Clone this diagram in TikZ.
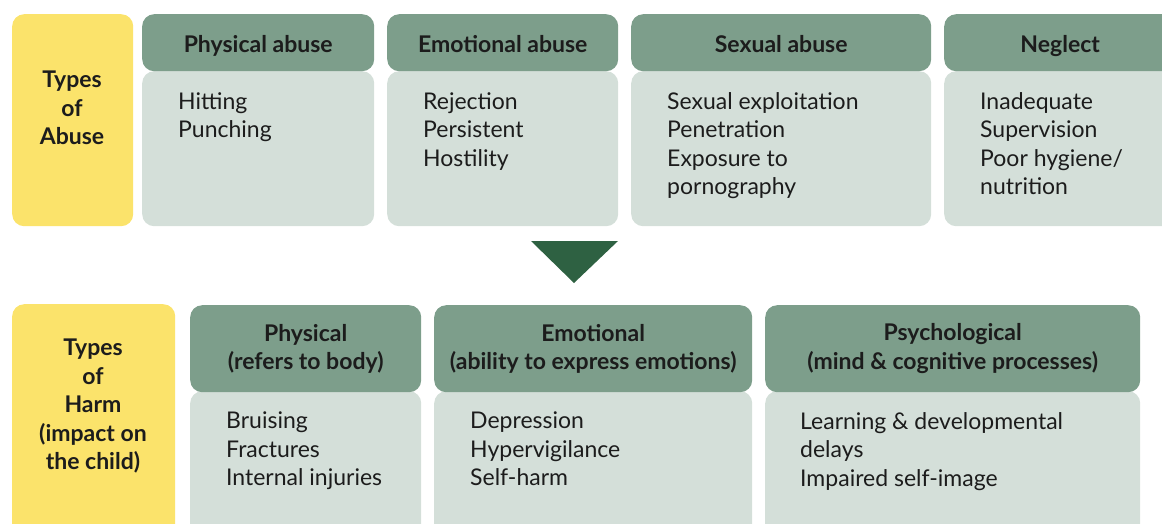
\documentclass[tikz,border=0pt]{standalone}
\usepackage{fontspec}
\setmainfont{Lato}
\usetikzlibrary{positioning}
\definecolor{headgreen}{HTML}{7D9E8B}
\definecolor{bodygreen}{HTML}{D4DFD9}
\definecolor{labelyellow}{HTML}{FBE36B}
\definecolor{arrowgreen}{HTML}{2E6142}
\definecolor{inkblack}{HTML}{1C1C1C}
\newcommand{\headfont}{\fontsize{23}{28.5}\selectfont\bfseries}
\newcommand{\itemfont}{\fontsize{23}{28.5}\selectfont}

\begin{document}
\begin{tikzpicture}[x=1pt,y=-1pt,
    labelbox/.style={fill=labelyellow, rounded corners=12pt, inner sep=0pt, anchor=north west},
    headbox/.style={fill=headgreen, rounded corners=12pt, inner sep=0pt, anchor=north west,
      font=\headfont, text=inkblack, align=center},
    tophead/.style={headbox, minimum height=57pt, text height=22pt, text depth=3pt},
    bodybox/.style={fill=bodygreen, rounded corners=12pt, inner sep=0pt, anchor=north west},
    itemtext/.style={anchor=north west, inner sep=0pt, align=left, font=\itemfont, text=inkblack},
    labeltext/.style={inner sep=0pt, align=center, font=\headfont, text=inkblack}]
  \useasboundingbox (0,0) rectangle (1162,523);

  % types of abuse
  \node[labelbox, minimum width=121pt, minimum height=212pt] (abuse) at (12,14) {};
  \node[labeltext] (abuselbl) at (72,108) {Types\\of\\Abuse};

  \node[bodybox, minimum width=232pt, minimum height=155pt] (physbody) at (142,71) {};
  \node[tophead, minimum width=232pt] (physhead) at (142,14) {Physical abuse};
  \node[itemtext] (physitems) at (178,92) {Hitting\\Punching};

  \node[bodybox, minimum width=231pt, minimum height=155pt] (emobody) at (387,71) {};
  \node[tophead, minimum width=231pt] (emohead) at (387,14) {Emotional abuse};
  \node[itemtext] (emoitems) at (423,92) {Rejection\\Persistent\\Hostility};

  \node[bodybox, minimum width=300pt, minimum height=155pt] (sexbody) at (631,71) {};
  \node[tophead, minimum width=300pt] (sexhead) at (631,14) {Sexual abuse};
  \node[itemtext] (sexitems) at (667,92) {Sexual exploitation\\Penetration\\Exposure to\\pornography};

  \node[bodybox, minimum width=232pt, minimum height=155pt] (negbody) at (944,71) {};
  \node[tophead, minimum width=232pt] (neghead) at (944,14) {Neglect};
  \node[itemtext] (negitems) at (980,92) {Inadequate\\Supervision\\Poor hygiene/\\nutrition};

  % arrow down
  \coordinate (tritop) at (574,241);
  \fill[arrowgreen] (tritop) ++(-43,0) -- ++(87,0) -- (574,283) -- cycle;

  % types of harm
  \node[labelbox, minimum width=163pt, minimum height=240pt] (harm) at (12,304) {};
  \node[labeltext] (harmlbl) at (93,406) {Types\\of\\Harm\\(impact on\\the child)};

  \node[bodybox, minimum width=231pt, minimum height=150pt] (bodybody) at (190,391) {};
  \node[headbox, minimum width=231pt, minimum height=87pt] (bodyhead) at (190,305) {Physical\\(refers to body)};
  \node[itemtext] (bodyitems) at (226,412) {Bruising\\Fractures\\Internal injuries};

  \node[bodybox, minimum width=318pt, minimum height=150pt] (feelbody) at (434,391) {};
  \node[headbox, minimum width=318pt, minimum height=87pt] (feelhead) at (434,305) {Emotional\\(ability to express emotions)};
  \node[itemtext] (feelitems) at (470,412) {Depression\\Hypervigilance\\Self-harm};

  \node[bodybox, minimum width=375pt, minimum height=150pt] (mindbody) at (765,391) {};
  \node[headbox, minimum width=375pt, minimum height=87pt] (mindhead) at (765,305) {Psychological\\(mind \& cognitive processes)};
  \node[itemtext] (minditems) at (800,412) {Learning \& developmental\\delays\\Impaired self-image};
\end{tikzpicture}
\end{document}
